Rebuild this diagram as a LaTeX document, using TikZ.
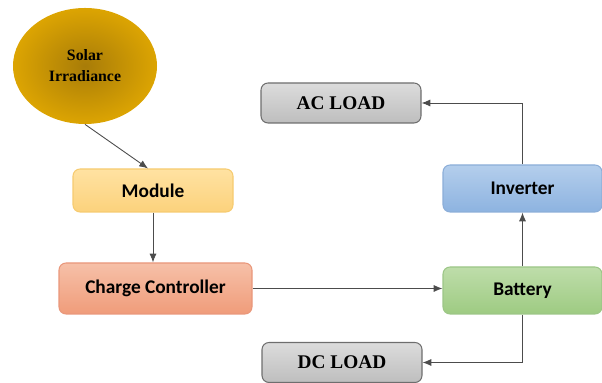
\documentclass[tikz,border=0pt]{standalone}
\usepackage{fontspec}
\setmainfont{Liberation Serif}
\setsansfont{Carlito}
\usepackage{xcolor}
\usetikzlibrary{arrows.meta, positioning, shapes.geometric}

\definecolor{sundark}{HTML}{A87C08}
\definecolor{sunlight}{HTML}{EFB300}
\definecolor{moduletop}{HTML}{FFE2A2}
\definecolor{modulebot}{HTML}{FCD27C}
\definecolor{moduleline}{HTML}{F6CB70}
\definecolor{chargetop}{HTML}{F6C0A8}
\definecolor{chargebot}{HTML}{F09C7A}
\definecolor{chargeline}{HTML}{E9977B}
\definecolor{invtop}{HTML}{B4CEEC}
\definecolor{invbot}{HTML}{8DB3E0}
\definecolor{invline}{HTML}{8CAED8}
\definecolor{battop}{HTML}{BEDDAA}
\definecolor{batbot}{HTML}{9ECB82}
\definecolor{batline}{HTML}{9CC687}
\definecolor{loadtop}{HTML}{DCDCDC}
\definecolor{loadbot}{HTML}{BEBEBE}
\definecolor{loadline}{HTML}{6E6E6E}
\pgfdeclareradialshading{sunglow}{\pgfpoint{0bp}{0bp}}{color(0bp)=(sundark); color(34bp)=(sunlight); color(50bp)=(sunlight)}

\tikzset{
    block/.style={rectangle, rounded corners=4pt, line width=0.6pt, minimum width=3.2cm, minimum height=0.86cm, font=\sffamily\bfseries\fontsize{11}{13}\selectfont},
    loadbox/.style={block, top color=loadtop, bottom color=loadbot, draw=loadline, minimum height=0.8cm, font=\rmfamily\bfseries\fontsize{11}{13}\selectfont},
    conn/.style={draw=black!70, line width=0.5pt, -{Latex[length=5pt, width=4pt]}}
}

\begin{document}
\begin{tikzpicture}[>=Latex, font=\sffamily]
    \useasboundingbox (0,0) rectangle (12.04,7.66);
    % 1. Source
    \node[ellipse, shading=sunglow, minimum width=2.88cm, minimum height=2.32cm, align=center,
          font=\rmfamily\bfseries\fontsize{9}{12}\selectfont] (solar) at (1.70,6.34) {Solar\\Irradiance};
    % 2. Left column
    \node[block, top color=moduletop, bottom color=modulebot, draw=moduleline] (module) at (3.06,3.85) {Module};
    \node[block, top color=chargetop, bottom color=chargebot, draw=chargeline, minimum width=3.86cm, minimum height=1.02cm] (charge) at (3.11,1.89) {Charge Controller};
    % 3. Right column
    \node[block, top color=invtop, bottom color=invbot, draw=invline, minimum width=3.18cm, minimum height=0.94cm] (inverter) at (10.45,3.89) {Inverter};
    \node[block, top color=battop, bottom color=batbot, draw=batline, minimum width=3.18cm, minimum height=0.94cm] (battery) at (10.45,1.85) {Battery};
    % 4. Loads
    \node[loadbox] (acload) at (6.82,5.60) {AC LOAD};
    \node[loadbox] (dcload) at (6.84,0.41) {DC LOAD};
    % 5. Connections
    \draw[conn] (solar.south) -- ([xshift=-0.1cm]module.north);
    \draw[conn] (module.south) -- (module.south |- charge.north);
    \draw[conn] (charge.east) -- (charge.east -| battery.west);
    \draw[conn] (battery.north) -- (inverter.south);
    \draw[conn] (inverter.north) |- (acload.east);
    \draw[conn] (battery.south) |- (dcload.east);
\end{tikzpicture}
\end{document}
